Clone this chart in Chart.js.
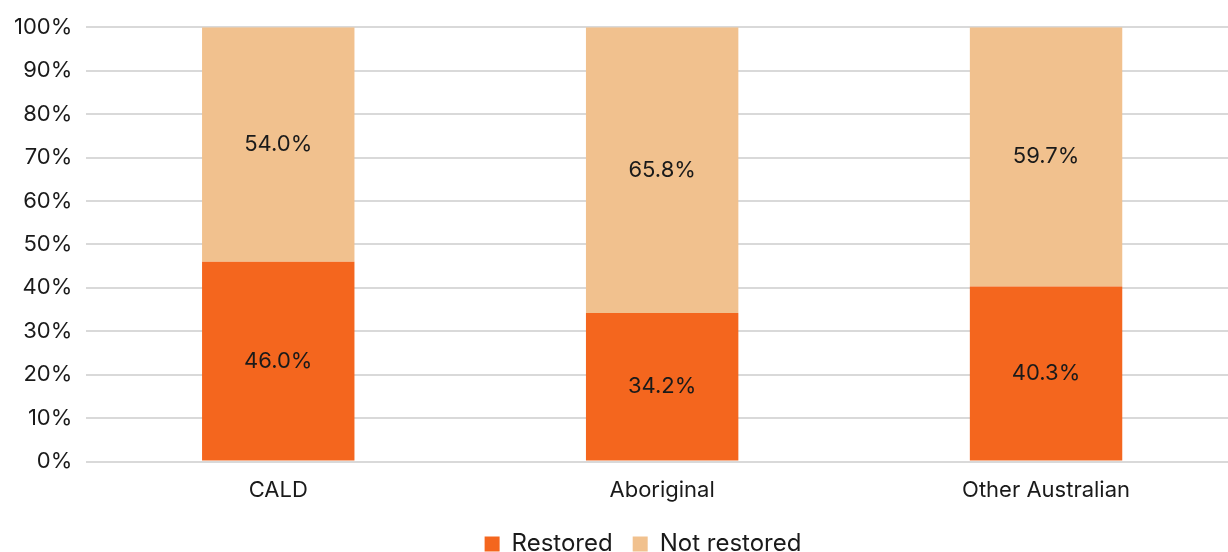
<!DOCTYPE html>
<html>
<head>
<meta charset="utf-8">
<script src="https://cdn.jsdelivr.net/npm/chart.js@4"></script>
<style>
    html, body { margin: 0; padding: 0; background: #fff; overflow: hidden; }
    #wrap { position: relative; width: 1238px; height: 566px; }
</style>
</head>
<body>
<div id="wrap"><canvas id="chartRestored"></canvas></div>
<script>
const categories = ['CALD', 'Aboriginal', 'Other Australian'];
const restored = [46.0, 34.2, 40.3];
const notRestored = [54.0, 65.8, 59.7];

const ORANGE = '#F4661E';
const PEACH = '#F1C18E';

// prints each segment's value in the middle of its bar
const barValueLabels = {
    id: 'barValueLabels',
    afterDatasetsDraw(chart) {
        const { ctx } = chart;
        ctx.save();
        ctx.font = '22px Inter, "Noto Sans", sans-serif';
        ctx.fillStyle = '#1a1a1a';
        ctx.textAlign = 'center';
        ctx.textBaseline = 'middle';
        chart.data.datasets.forEach((ds, i) => {
            chart.getDatasetMeta(i).data.forEach((bar, j) => {
                const mid = (bar.y + bar.base) / 2;
                ctx.fillText(ds.data[j].toFixed(1) + '%', bar.x, mid);
            });
        });
        ctx.restore();
    },
};

// nudges the legend a little to the right of the canvas centre
const legendShift = {
    id: 'legendShift',
    afterLayout(chart) {
        const lg = chart.legend;
        if (!lg) return;
        lg.left += 24;
        lg.right += 24;
    },
};

Chart.defaults.font.family = 'Inter, "Noto Sans", sans-serif';
Chart.defaults.color = '#1a1a1a';

new Chart(document.getElementById('chartRestored'), {
    type: 'bar',
    data: {
        labels: categories,
        datasets: [
            { label: 'Restored', data: restored, backgroundColor: ORANGE },
            { label: 'Not restored', data: notRestored, backgroundColor: PEACH },
        ],
    },
    options: {
        responsive: true,
        maintainAspectRatio: false,
        animation: false,
        datasets: { bar: { categoryPercentage: 1, barPercentage: 0.397 } },
        layout: { padding: { top: 1, right: 0, left: 0, bottom: 0 } },
        plugins: {
            legend: {
                position: 'bottom',
                labels: { font: { size: 24 }, boxWidth: 15, boxHeight: 15, padding: 20, color: '#1a1a1a' },
            },
            tooltip: { enabled: false },
        },
        scales: {
            x: {
                stacked: true,
                grid: { display: false },
                border: { display: false },
                ticks: { font: { size: 22 }, padding: 8 },
            },
            y: {
                stacked: true,
                min: 0,
                max: 100,
                grid: { color: '#d9d9d9', lineWidth: 2, drawTicks: false },
                border: { display: false },
                ticks: { stepSize: 10, font: { size: 22 }, padding: 14, callback: (v) => v + '%' },
            },
        },
    },
    plugins: [barValueLabels, legendShift],
});
</script>
</body>
</html>
